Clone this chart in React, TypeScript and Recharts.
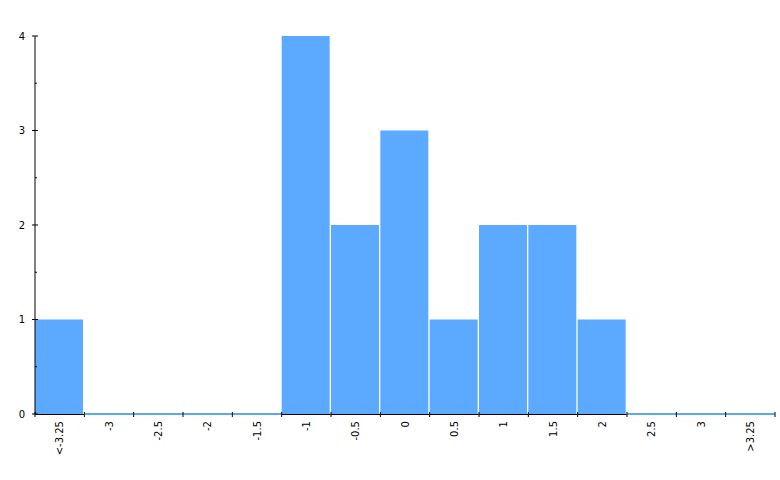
import React from "react";
import { BarChart, Bar, XAxis, YAxis } from "recharts";

const categories = ["<-3.25", "-3", "-2.5", "-2", "-1.5", "-1", "-0.5", "0", "0.5", "1", "1.5", "2", "2.5", "3", ">3.25"];
const counts = [1, 0, 0, 0, 0, 4, 2, 3, 1, 2, 2, 1, 0, 0, 0];
const yTicks = [0, 0.5, 1, 1.5, 2, 2.5, 3, 3.5, 4];

const data = categories.map((c, i) => ({ name: c, value: counts[i] }));

const BAR_COLOR = "#5caaff";
const ZERO_COLOR = "#5fa8f0";
const FONT = "DejaVu Sans, Verdana, sans-serif";
const N = categories.length;

const BarShape = (props: any) => {
  const { x, y, width, height, value } = props;
  const v = Array.isArray(value) ? value[1] - value[0] : value;
  const base = y + height;
  if (!v) {
    return <rect x={x} y={base - 1} width={width} height={2} fill={ZERO_COLOR} />;
  }
  return (
    <g>
      <rect x={x} y={y} width={Math.max(width - 1, 0)} height={height} fill={BAR_COLOR} />
      <line x1={x} y1={base + 0.5} x2={x + width} y2={base + 0.5} stroke="#000" strokeWidth={1} />
    </g>
  );
};

const XTick = (props: any) => {
  const { x, y, payload, index } = props;
  const half = payload && payload.offset ? payload.offset : 740 / N / 2;
  const left = x - half;
  const right = x + half;
  return (
    <g>
      <line x1={left} y1={y - 2} x2={left} y2={y + 3} stroke="#000" strokeWidth={1} />
      {index === N - 1 && <line x1={right} y1={y - 2} x2={right} y2={y + 3} stroke="#000" strokeWidth={1} />}
      <text
        x={x}
        y={y + 7}
        transform={`rotate(-90 ${x} ${y + 7})`}
        textAnchor="end"
        dominantBaseline="central"
        fontFamily={FONT}
        fontSize={10}
        fill="#000"
      >
        {payload.value}
      </text>
    </g>
  );
};

const YTick = (props: any) => {
  const { x, y, payload } = props;
  const v = payload.value;
  const major = Number.isInteger(v);
  return (
    <g>
      {major ? (
        <line x1={x - 3} y1={y} x2={x + 3} y2={y} stroke="#000" strokeWidth={1} />
      ) : (
        <line x1={x} y1={y} x2={x + 2} y2={y} stroke="#000" strokeWidth={1} />
      )}
      {major && (
        <text x={x - 10} y={y} textAnchor="end" dominantBaseline="central" fontFamily={FONT} fontSize={10} fill="#000">
          {v}
        </text>
      )}
    </g>
  );
};

export default function App() {
  return (
    <div style={{ position: "absolute", left: 0, top: 0, width: 780, height: 480, background: "#fff" }}>
      <BarChart
        width={780}
        height={480}
        data={data}
        margin={{ top: 36, right: 5, left: 0, bottom: 0 }}
        barCategoryGap={0}
        barGap={0}
      >
        <Bar dataKey="value" isAnimationActive={false} shape={<BarShape />} />
        <XAxis
          dataKey="name"
          interval={0}
          height={66}
          tickSize={0}
          tickMargin={0}
          tickLine={false}
          axisLine={false}
          tick={<XTick />}
        />
        <YAxis
          width={35}
          domain={[0, 4]}
          ticks={yTicks}
          interval={0}
          tickSize={0}
          tickMargin={0}
          tickLine={false}
          axisLine={{ stroke: "#000", strokeWidth: 1 }}
          tick={<YTick />}
        />
      </BarChart>
    </div>
  );
}
